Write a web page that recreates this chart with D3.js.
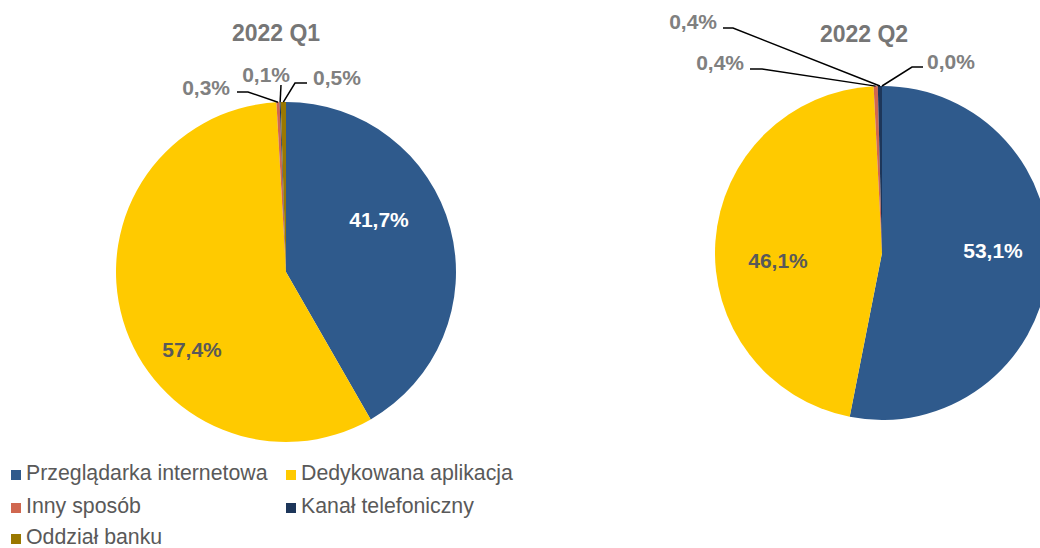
<!DOCTYPE html>
<html lang="pl">
<head>
<meta charset="UTF-8">
<script src="https://cdn.jsdelivr.net/npm/d3@7/dist/d3.min.js"></script>
<style>
    body { margin: 0; background: #fff; }
    svg text { font-family: "Liberation Sans", Arial, sans-serif; }
    .title { font-size: 23px; font-weight: bold; fill: #767676; }
    .lbl { font-size: 21px; font-weight: bold; }
    .legend text { font-size: 21.3px; fill: #595959; }
</style>
</head>
<body>
<svg id="chart" width="1040" height="548"></svg>
<script>
// data
var categories = ["Przeglądarka internetowa", "Dedykowana aplikacja", "Inny sposób", "Kanał telefoniczny", "Oddział banku"];
var colors = ["#2F5A8C", "#FFCA00", "#D0674F", "#1D365A", "#9A7800"];
var q1Values = [41.7, 57.4, 0.3, 0.1, 0.5];
var q2Values = [53.1, 46.1, 0.4, 0.4, 0.0];
var periods = ["2022 Q1", "2022 Q2"];

// layout for each pie: centre, radius, title spot and where the labels go
var pies = [
    {values: q1Values, cx: 286, cy: 272, r: 170, titleX: 276, titleY: 41,
     labels: [
        {x: 379, y: 227, anchor: "middle", fill: "#fff"},
        {x: 192, y: 357, anchor: "middle", fill: "#595959"},
        {x: 230, y: 95, anchor: "end", fill: "#808080", line: [[248, 92], [237, 92]]},
        {x: 290, y: 82, anchor: "end", fill: "#808080", line: [[281, 85]]},
        {x: 313, y: 85, anchor: "start", fill: "#808080", line: [[295, 83], [307, 83]]}
     ]},
    {values: q2Values, cx: 882, cy: 253, r: 167, titleX: 864, titleY: 42,
     labels: [
        {x: 993, y: 258, anchor: "middle", fill: "#fff"},
        {x: 778, y: 268, anchor: "middle", fill: "#595959"},
        {x: 744, y: 70, anchor: "end", fill: "#808080", line: [[762, 69], [750, 69]]},
        {x: 717, y: 29, anchor: "end", fill: "#808080", line: [[733, 28], [723, 28]]},
        {x: 927, y: 69, anchor: "start", fill: "#808080", line: [[912, 67], [923, 67]]}
     ]}
];

var svg = d3.select("#chart");
var fmt = function(v) { return v.toFixed(1).replace(".", ",") + "%"; };

var pie = d3.pie().sort(null).value(function(d) { return d; });

pies.forEach(function(p, pi) {
    var arc = d3.arc().innerRadius(0).outerRadius(p.r);
    var arcs = pie(p.values);
    var g = svg.append("g").attr("transform", "translate(" + p.cx + "," + p.cy + ")");

    g.selectAll("path.slice")
        .data(arcs)
        .enter().append("path")
        .attr("class", "slice")
        .attr("d", arc)
        .attr("fill", function(d, i) { return colors[i]; });

    svg.append("text").attr("class", "title")
        .attr("x", p.titleX).attr("y", p.titleY)
        .attr("text-anchor", "middle")
        .text(periods[pi]);

    // leader lines for the thin slices
    arcs.forEach(function(d, i) {
        var L = p.labels[i];
        if (!L.line) return;
        var mid = (d.startAngle + d.endAngle) / 2;
        var pts = [[p.cx + p.r * Math.sin(mid), p.cy - p.r * Math.cos(mid)]].concat(L.line);
        svg.append("path")
            .attr("d", d3.line()(pts))
            .attr("fill", "none")
            .attr("stroke", "#000")
            .attr("stroke-width", 1.5);
    });

    svg.selectAll(null)
        .data(arcs)
        .enter().append("text")
        .attr("class", "lbl")
        .attr("x", function(d, i) { return p.labels[i].x; })
        .attr("y", function(d, i) { return p.labels[i].y; })
        .attr("text-anchor", function(d, i) { return p.labels[i].anchor; })
        .attr("fill", function(d, i) { return p.labels[i].fill; })
        .text(function(d) { return fmt(d.data); });
});

// legend
var legendPos = [[11, 480], [286, 480], [11, 513], [286, 513], [11, 544]];
var legend = svg.append("g").attr("class", "legend");
var items = legend.selectAll("g")
    .data(categories)
    .enter().append("g")
    .attr("transform", function(d, i) { return "translate(" + legendPos[i][0] + "," + legendPos[i][1] + ")"; });
items.append("rect")
    .attr("x", 0).attr("y", -10)
    .attr("width", 10).attr("height", 10)
    .attr("fill", function(d, i) { return colors[i]; });
items.append("text")
    .attr("x", 15).attr("y", 0)
    .text(function(d) { return d; });
</script>
</body>
</html>
